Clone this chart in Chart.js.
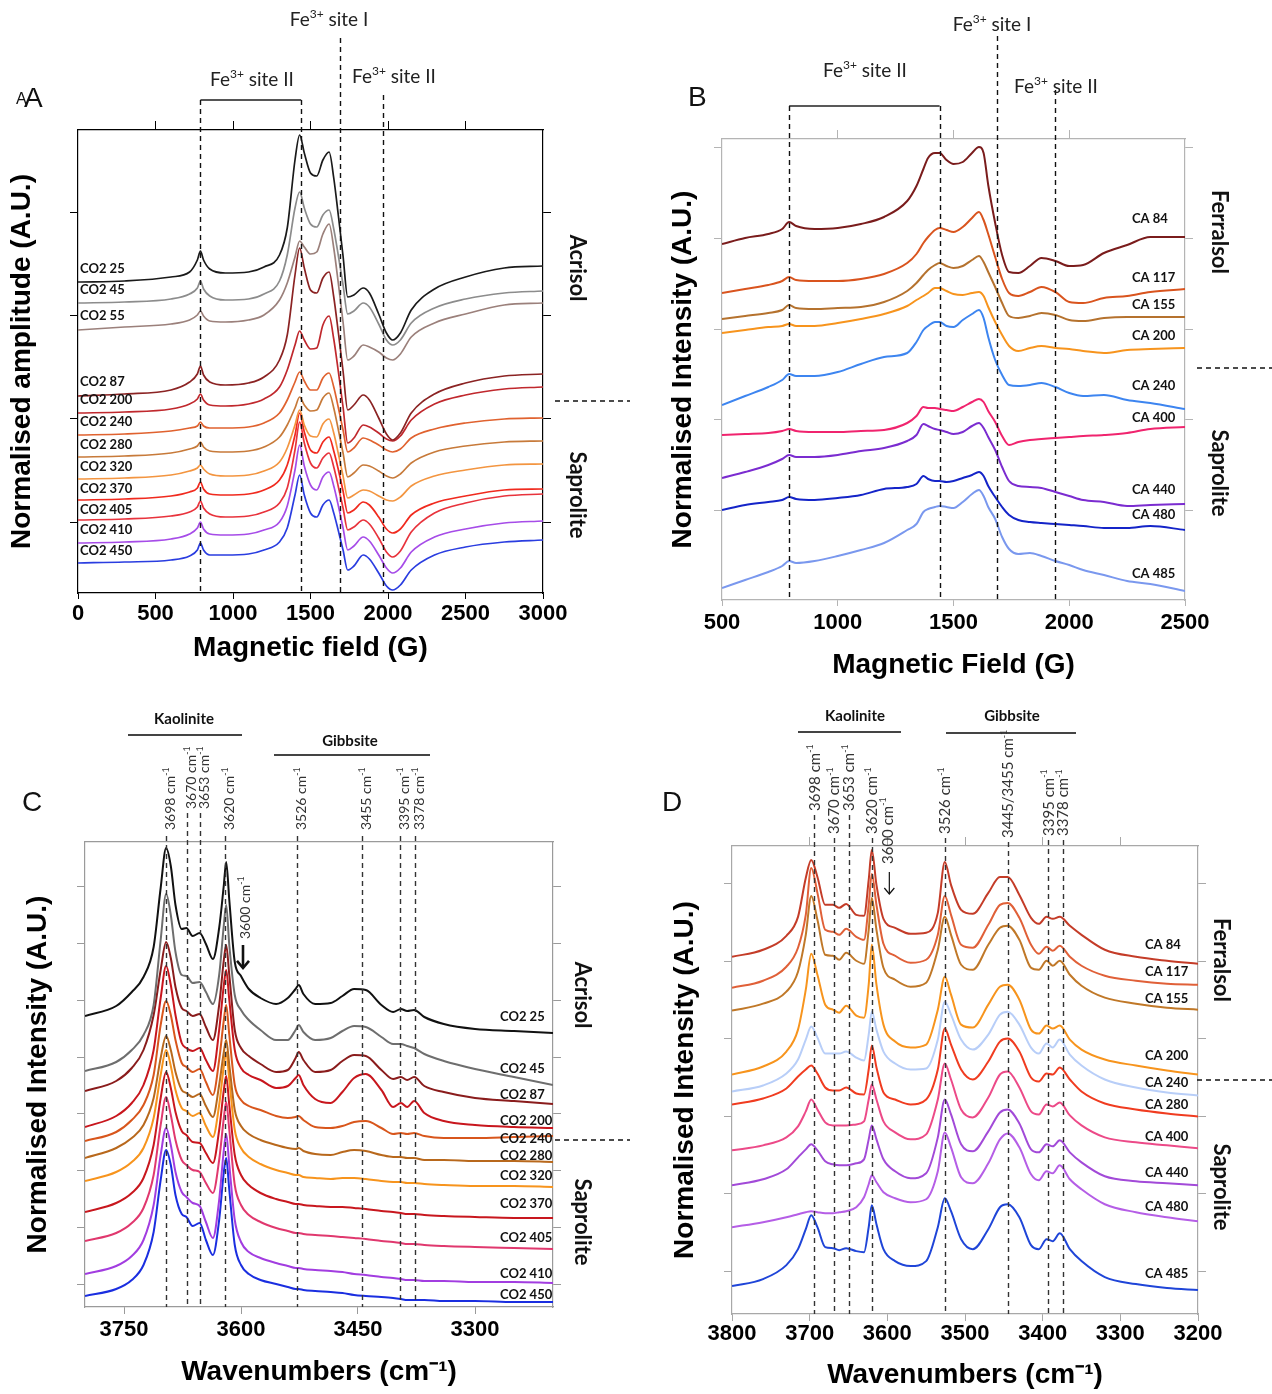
<!DOCTYPE html>
<html lang="en">
<head>
<meta charset="UTF-8">
<title>EPR and DRIFT spectra of Acrisol and Ferralsol profiles</title>
<script src="https://cdnjs.cloudflare.com/ajax/libs/Chart.js/4.4.1/chart.umd.min.js"></script>
<style>
  body { margin: 0; background: #fff; }
  #wrap { position: relative; width: 1272px; height: 1394px; background: #fff; }
  #wrap canvas { position: absolute; left: 0; top: 0; }
</style>
</head>
<body>
<div id="wrap">
  <canvas id="chartA" width="1272" height="1394"></canvas>
  <canvas id="chartB" width="1272" height="1394"></canvas>
  <canvas id="chartC" width="1272" height="1394"></canvas>
  <canvas id="chartD" width="1272" height="1394"></canvas>
</div>
<script>
// ---------- A: EPR, Acrisol profile (normalised amplitude, A.U.) ----------
const fieldA = [0, 300, 600, 720, 770, 790, 810, 850, 950, 1100, 1200, 1300, 1350, 1400, 1430, 1460, 1500, 1540, 1580, 1620, 1650, 1680, 1710, 1740, 1780, 1840, 1880, 1940, 1990, 2030, 2080, 2150, 2300, 2500, 2750, 3000];
const epr_co2_25  = [318, 319, 323, 328, 340, 349, 340, 331, 327, 328, 333, 345, 372, 440, 465, 447, 427, 424, 440, 448, 422, 384, 344, 303, 305, 312, 307, 286, 267, 260, 267, 290, 311, 323, 332, 334];
const epr_co2_45  = [297, 298, 301, 306, 312, 319, 311, 304, 300, 301, 306, 319, 345, 392, 408, 392, 376, 373, 385, 390, 371, 344, 315, 286, 289, 297, 293, 276, 260, 255, 260, 277, 292, 301, 307, 309];
const epr_co2_55  = [270, 273, 276, 280, 285, 289, 284, 279, 278, 280, 285, 300, 317, 343, 359, 353, 346, 348, 366, 376, 352, 316, 278, 240, 244, 255, 253, 248, 242, 240, 246, 263, 277, 286, 295, 297];
const epr_co2_87  = [204, 206, 210, 218, 226, 234, 225, 218, 215, 217, 223, 240, 265, 325, 352, 332, 310, 307, 322, 328, 303, 267, 229, 190, 195, 205, 200, 182, 166, 160, 167, 187, 206, 217, 224, 226];
const epr_co2_200 = [187, 188, 191, 196, 201, 206, 200, 195, 194, 196, 201, 213, 230, 255, 269, 260, 251, 252, 275, 284, 261, 228, 193, 157, 162, 175, 173, 167, 161, 159, 164, 180, 196, 205, 211, 213];
const epr_co2_240 = [165, 166, 169, 172, 174, 178, 174, 172, 172, 173, 177, 187, 200, 218, 228, 219, 210, 210, 222, 227, 213, 192, 170, 148, 152, 162, 160, 155, 150, 148, 151, 162, 171, 177, 181, 182];
const epr_co2_280 = [143, 144, 147, 151, 154, 158, 153, 149, 148, 149, 153, 163, 175, 192, 203, 195, 189, 190, 202, 207, 192, 170, 147, 123, 127, 135, 134, 129, 124, 122, 126, 137, 148, 154, 158, 159];
const epr_co2_320 = [121, 122, 125, 129, 132, 135, 131, 126, 124, 125, 129, 138, 152, 175, 190, 175, 164, 163, 176, 181, 167, 146, 124, 102, 105, 110, 109, 104, 100, 99, 103, 114, 124, 130, 135, 136];
const epr_co2_370 = [100, 101, 104, 108, 112, 118, 111, 106, 105, 106, 110, 120, 135, 165, 187, 168, 150, 147, 158, 163, 149, 130, 109, 87, 90, 98, 95, 83, 71, 67, 71, 85, 97, 104, 110, 111];
const epr_co2_405 = [80, 81, 84, 88, 93, 99, 92, 86, 83, 84, 88, 97, 112, 150, 178, 157, 137, 132, 142, 147, 133, 113, 92, 70, 73, 80, 76, 62, 48, 43, 49, 68, 87, 97, 104, 106];
const epr_co2_410 = [57, 58, 61, 66, 72, 78, 71, 66, 65, 66, 70, 78, 94, 130, 155, 134, 115, 110, 123, 128, 114, 94, 72, 50, 54, 63, 59, 45, 32, 27, 32, 48, 63, 71, 77, 79];
const epr_co2_450 = [37, 38, 40, 44, 50, 57, 50, 45, 45, 46, 50, 58, 72, 105, 125, 105, 87, 83, 95, 100, 87, 69, 50, 30, 34, 45, 41, 27, 14, 10, 15, 30, 45, 53, 58, 60];
const namesA = ['CO2 25', 'CO2 45', 'CO2 55', 'CO2 87', 'CO2 200', 'CO2 240', 'CO2 280', 'CO2 320', 'CO2 370', 'CO2 405', 'CO2 410', 'CO2 450'];
const fieldTicksA = [0, 500, 1000, 1500, 2000, 2500, 3000];

// ---------- B: EPR, Ferralsol profile ----------
const fieldB = [500, 600, 700, 760, 790, 820, 900, 1000, 1100, 1200, 1300, 1340, 1370, 1390, 1420, 1440, 1470, 1500, 1540, 1580, 1610, 1630, 1650, 1680, 1710, 1740, 1780, 1830, 1880, 1940, 2000, 2060, 2150, 2250, 2350, 2500];
const epr_ca84  = [366, 372, 376, 381, 388, 384, 381, 382, 386, 393, 409, 424, 441, 452, 457, 457, 450, 446, 448, 457, 463, 457, 425, 387, 355, 338, 337, 344, 352, 349, 344, 345, 357, 365, 373, 373];
const epr_ca117 = [317, 321, 325, 329, 333, 330, 329, 329, 331, 336, 347, 356, 367, 373, 380, 382, 380, 378, 383, 392, 398, 390, 376, 353, 331, 317, 314, 318, 323, 318, 308, 307, 312, 314, 318, 321];
const epr_ca155 = [291, 294, 297, 300, 305, 302, 301, 302, 303, 308, 319, 327, 335, 340, 345, 347, 344, 342, 344, 350, 354, 348, 338, 323, 307, 294, 292, 294, 297, 295, 290, 289, 292, 293, 293, 293];
const epr_ca200 = [277, 280, 283, 284, 286, 284, 284, 287, 291, 296, 304, 310, 314, 317, 322, 322, 319, 316, 315, 317, 318, 314, 303, 288, 275, 264, 259, 262, 264, 262, 261, 259, 257, 260, 261, 262];
const epr_ca240 = [205, 214, 223, 230, 236, 234, 234, 238, 246, 253, 257, 268, 280, 284, 288, 288, 284, 283, 290, 296, 300, 292, 273, 250, 235, 225, 224, 225, 227, 223, 217, 214, 215, 210, 207, 201];
const epr_ca400 = [175, 176, 177, 179, 181, 179, 178, 178, 179, 180, 187, 194, 203, 202, 202, 201, 200, 199, 203, 208, 211, 208, 199, 188, 174, 165, 168, 170, 171, 172, 173, 174, 175, 177, 181, 183];
const epr_ca440 = [132, 138, 145, 151, 155, 153, 153, 155, 159, 162, 169, 175, 186, 184, 181, 180, 178, 176, 178, 184, 187, 182, 173, 160, 143, 129, 124, 123, 122, 118, 114, 110, 108, 104, 105, 106];
const epr_ca480 = [100, 105, 108, 110, 113, 111, 110, 112, 115, 121, 123, 126, 134, 131, 129, 129, 128, 129, 132, 135, 138, 134, 124, 113, 103, 95, 90, 88, 87, 86, 85, 84, 82, 82, 84, 80];
const epr_ca485 = [22, 30, 38, 44, 49, 47, 49, 54, 60, 67, 80, 86, 98, 101, 103, 104, 103, 102, 108, 116, 120, 114, 103, 91, 73, 61, 56, 57, 54, 49, 45, 40, 35, 29, 26, 19];
const namesB = ['CA 84', 'CA 117', 'CA 155', 'CA 200', 'CA 240', 'CA 400', 'CA 440', 'CA 480', 'CA 485'];
const fieldTicksB = [500, 1000, 1500, 2000, 2500];

// ---------- C: DRIFT, Acrisol profile ----------
const waveC = [3800, 3760, 3740, 3725, 3712, 3703, 3696, 3690, 3684, 3676, 3670, 3662, 3653, 3645, 3636, 3628, 3622, 3619, 3615, 3608, 3600, 3590, 3575, 3555, 3540, 3530, 3526, 3520, 3505, 3485, 3470, 3455, 3440, 3420, 3405, 3395, 3387, 3378, 3365, 3340, 3300, 3250, 3200];
const ir_co2_25  = [294, 304, 318, 333, 363, 422, 462, 444, 405, 381, 382, 374, 377, 366, 351, 382, 425, 448, 410, 348, 334, 321, 312, 306, 312, 321, 325, 316, 306, 307, 314, 321, 320, 305, 298, 301, 299, 300, 293, 286, 281, 279, 277];
const ir_co2_45  = [239, 248, 260, 275, 305, 370, 416, 395, 358, 335, 334, 327, 328, 318, 306, 335, 385, 405, 365, 315, 300, 290, 280, 270, 270, 280, 285, 278, 270, 272, 279, 284, 283, 273, 266, 266, 264, 262, 256, 249, 241, 233, 225];
const ir_co2_87  = [219, 229, 242, 260, 295, 340, 368, 352, 323, 302, 299, 294, 296, 283, 270, 305, 350, 365, 335, 280, 262, 254, 246, 238, 240, 252, 258, 250, 238, 240, 249, 255, 254, 240, 231, 233, 230, 233, 224, 218, 212, 209, 206];
const ir_co2_200 = [183, 194, 207, 225, 260, 312, 344, 325, 295, 267, 262, 259, 262, 250, 239, 280, 325, 340, 310, 260, 242, 235, 230, 222, 224, 232, 235, 225, 211, 207, 218, 232, 236, 220, 203, 207, 203, 209, 197, 189, 185, 183, 182];
const ir_co2_240 = [169, 178, 190, 205, 235, 285, 309, 295, 270, 247, 243, 238, 241, 228, 215, 250, 290, 305, 275, 225, 210, 204, 200, 194, 192, 193, 194, 190, 183, 182, 184, 188, 189, 182, 176, 177, 176, 177, 174, 172, 172, 173, 174];
const ir_co2_280 = [152, 162, 172, 185, 212, 252, 274, 260, 238, 220, 217, 213, 216, 204, 193, 225, 258, 270, 245, 200, 184, 176, 170, 165, 162, 161, 162, 159, 156, 155, 158, 160, 159, 155, 153, 153, 152, 152, 150, 150, 149, 149, 148];
const ir_co2_320 = [129, 138, 148, 162, 192, 235, 260, 244, 220, 202, 199, 194, 197, 184, 173, 205, 244, 258, 230, 180, 162, 153, 146, 140, 137, 135, 135, 133, 132, 131, 132, 132, 131, 129, 128, 128, 127, 127, 126, 125, 124, 124, 123];
const ir_co2_370 = [98, 107, 117, 132, 165, 212, 238, 222, 198, 179, 175, 168, 167, 157, 147, 180, 220, 234, 205, 155, 135, 125, 117, 111, 108, 106, 106, 105, 104, 103, 103, 102, 101, 99, 98, 97, 96, 96, 95, 94, 93, 92, 92];
const ir_co2_405 = [69, 77, 87, 102, 135, 185, 213, 195, 170, 150, 145, 140, 138, 127, 117, 150, 192, 208, 180, 125, 105, 95, 88, 82, 79, 77, 77, 76, 75, 74, 73, 72, 71, 69, 68, 67, 66, 66, 65, 64, 63, 62, 61];
const ir_co2_410 = [36, 44, 54, 70, 105, 155, 182, 165, 138, 118, 113, 107, 104, 88, 72, 110, 160, 176, 145, 90, 68, 58, 52, 47, 44, 42, 42, 41, 40, 39, 38, 36, 35, 33, 32, 31, 30, 30, 29, 29, 28, 28, 27];
const ir_co2_450 = [14, 21, 30, 45, 78, 130, 160, 145, 115, 96, 93, 84, 87, 70, 55, 90, 138, 152, 120, 65, 45, 36, 30, 26, 23, 21, 21, 20, 19, 18, 17, 15, 14, 13, 12, 11, 10, 10, 10, 9, 9, 8, 8];
const namesC = ['CO2 25', 'CO2 45', 'CO2 87', 'CO2 200', 'CO2 240', 'CO2 280', 'CO2 320', 'CO2 370', 'CO2 405', 'CO2 410', 'CO2 450'];
const waveTicksC = [3750, 3600, 3450, 3300];

// ---------- D: DRIFT, Ferralsol profile ----------
const waveD = [3800, 3760, 3730, 3715, 3705, 3698, 3690, 3680, 3670, 3662, 3653, 3640, 3630, 3624, 3620, 3614, 3605, 3590, 3570, 3550, 3535, 3526, 3518, 3505, 3490, 3470, 3455, 3445, 3430, 3415, 3405, 3395, 3387, 3378, 3365, 3350, 3320, 3280, 3240, 3200];
const ir_ca84  = [363, 370, 384, 403, 442, 460, 443, 415, 415, 412, 416, 405, 404, 440, 470, 435, 401, 392, 386, 387, 407, 458, 435, 410, 406, 427, 443, 443, 425, 402, 396, 403, 401, 403, 394, 385, 370, 363, 359, 356];
const ir_ca117 = [332, 339, 353, 372, 405, 452, 427, 390, 388, 385, 391, 383, 380, 415, 446, 415, 376, 364, 357, 360, 385, 424, 405, 375, 372, 395, 415, 417, 402, 375, 366, 373, 369, 374, 363, 354, 344, 339, 336, 335];
const ir_ca155 = [309, 316, 328, 348, 385, 424, 400, 365, 364, 360, 367, 359, 356, 390, 422, 390, 352, 340, 333, 337, 370, 403, 385, 355, 350, 375, 392, 394, 380, 352, 350, 359, 354, 359, 345, 334, 322, 316, 312, 310];
const ir_ca200 = [245, 253, 268, 290, 330, 366, 345, 315, 310, 307, 314, 304, 302, 335, 375, 335, 295, 278, 272, 275, 310, 343, 325, 295, 292, 315, 333, 335, 320, 290, 286, 294, 291, 294, 280, 270, 260, 254, 249, 245];
const ir_ca240 = [228, 234, 246, 260, 280, 293, 282, 266, 266, 266, 268, 262, 259, 285, 308, 290, 268, 256, 250, 251, 280, 318, 305, 280, 270, 285, 305, 308, 295, 272, 266, 276, 272, 280, 265, 254, 240, 232, 227, 224];
const ir_ca280 = [215, 221, 231, 243, 250, 254, 246, 232, 229, 229, 232, 226, 225, 250, 274, 252, 227, 220, 215, 220, 250, 291, 275, 250, 240, 258, 278, 281, 268, 242, 238, 246, 245, 252, 240, 228, 216, 210, 206, 203];
const ir_ca400 = [169, 174, 182, 193, 208, 220, 210, 197, 194, 194, 194, 195, 198, 220, 235, 220, 198, 187, 180, 185, 220, 256, 240, 210, 202, 222, 245, 248, 232, 208, 205, 215, 213, 217, 204, 194, 182, 177, 174, 171];
const ir_ca440 = [134, 140, 150, 162, 170, 175, 169, 158, 155, 154, 154, 156, 160, 180, 194, 180, 160, 148, 141, 146, 182, 220, 205, 175, 168, 188, 207, 210, 196, 170, 167, 175, 173, 179, 167, 157, 143, 138, 136, 134];
const ir_ca480 = [92, 97, 102, 105, 107, 108, 107, 106, 106, 107, 108, 112, 122, 135, 144, 137, 127, 121, 117, 120, 148, 187, 172, 142, 136, 156, 180, 186, 172, 145, 139, 148, 146, 154, 140, 130, 115, 107, 102, 98];
const ir_ca485 = [33, 40, 54, 70, 90, 104, 92, 72, 71, 69, 71, 68, 67, 92, 114, 95, 70, 58, 53, 58, 92, 121, 108, 80, 70, 90, 112, 115, 102, 74, 70, 80, 78, 86, 70, 58, 42, 35, 31, 29];
const namesD = ['CA 84', 'CA 117', 'CA 155', 'CA 200', 'CA 240', 'CA 280', 'CA 400', 'CA 440', 'CA 480', 'CA 485'];
const waveTicksD = [3800, 3700, 3600, 3500, 3400, 3300, 3200];

// ---------- drawing ----------
const FONT_AXIS = "'Liberation Sans', Arial, sans-serif";
const FONT_NOTE = "Lato, 'Open Sans', sans-serif";

// text with superscript parts: parts = [[text, isSup], ...]
function drawSup(ctx, parts, x, y, size, align, color, weight) {
  const w8 = weight || 'normal';
  const fonts = parts.map(p => `${w8} ${p[1] ? Math.round(size * 0.62) : size}px ${FONT_NOTE}`);
  let total = 0;
  const widths = parts.map((p, i) => {
    ctx.font = fonts[i];
    const w = ctx.measureText(p[0]).width;
    total += w;
    return w;
  });
  let cx = align === 'center' ? x - total / 2 : (align === 'right' ? x - total : x);
  ctx.fillStyle = color;
  ctx.textAlign = 'left';
  ctx.textBaseline = 'alphabetic';
  parts.forEach((p, i) => {
    ctx.font = fonts[i];
    ctx.fillText(p[0], cx, y - (p[1] ? size * 0.42 : 0));
    cx += widths[i];
  });
}

const decor = {
  id: 'decor',
  afterDraw(chart, args, o) {
    const ctx = chart.ctx;
    const xs = chart.scales.x;
    const ys = chart.scales.y;
    const area = chart.chartArea;
    ctx.save();

    (o.letters || []).forEach(l => {
      ctx.font = `${l.size}px ${FONT_AXIS}`;
      ctx.fillStyle = '#111';
      ctx.textAlign = 'left';
      ctx.textBaseline = 'alphabetic';
      ctx.fillText(l.t, l.x, l.y);
    });

    (o.groups || []).forEach(g => {
      ctx.strokeStyle = '#444';
      ctx.lineWidth = 2;
      ctx.beginPath(); ctx.moveTo(g.x0, g.barY); ctx.lineTo(g.x1, g.barY); ctx.stroke();
      ctx.font = `bold 15px ${FONT_NOTE}`;
      ctx.fillStyle = '#111';
      ctx.textAlign = 'center';
      ctx.textBaseline = 'middle';
      ctx.fillText(g.t, g.x, g.y);
    });

    (o.brackets || []).forEach(b => {
      ctx.strokeStyle = b.color;
      ctx.lineWidth = b.w;
      ctx.beginPath();
      ctx.moveTo(xs.getPixelForValue(b.from), b.y);
      ctx.lineTo(xs.getPixelForValue(b.to), b.y);
      ctx.stroke();
    });

    // dashed marker lines
    ctx.setLineDash([5, 4]);
    ctx.lineWidth = 1.4;
    ctx.strokeStyle = o.dashColor;
    (o.vlines || []).forEach(l => {
      const px = Math.round(xs.getPixelForValue(l.v)) + 0.5;
      ctx.beginPath(); ctx.moveTo(px, l.top); ctx.lineTo(px, area.bottom); ctx.stroke();
    });
    if (o.divider) {
      const d = o.divider;
      ctx.strokeStyle = '#111';
      ctx.lineWidth = 1.5;
      ctx.beginPath(); ctx.moveTo(d.x0, d.y); ctx.lineTo(d.x1, d.y); ctx.stroke();
    }
    ctx.setLineDash([]);

    // Fe3+ site labels
    (o.sites || []).forEach(s => {
      drawSup(ctx, [['Fe', 0], ['3+', 1], [' site ' + s.n, 0]], s.x, s.y + 7, 19, s.align || 'center', '#222');
    });

    // rotated band labels
    (o.peaks || []).forEach(p => {
      const px = xs.getPixelForValue(p.v) + (o.peakDx || 0);
      ctx.save();
      ctx.translate(px, p.bottom);
      ctx.rotate(-Math.PI / 2);
      drawSup(ctx, [[p.t + ' cm', 0], ['-1', 1]], 0, o.peakSize * 0.36, o.peakSize, 'left', '#333');
      ctx.restore();
    });

    if (o.arrow) {
      const a = o.arrow;
      const px = xs.getPixelForValue(a.v) + (a.dx || 0);
      ctx.strokeStyle = '#111';
      ctx.lineWidth = a.w;
      ctx.beginPath(); ctx.moveTo(px, a.y0); ctx.lineTo(px, a.y1); ctx.stroke();
      ctx.beginPath();
      ctx.moveTo(px - a.head, a.y1 - a.head * 1.2);
      ctx.lineTo(px, a.y1);
      ctx.lineTo(px + a.head, a.y1 - a.head * 1.2);
      ctx.stroke();
    }

    // sample labels, anchored on each curve
    if (o.curveLabels) {
      const c = o.curveLabels;
      ctx.font = `bold 13px ${FONT_NOTE}`;
      ctx.fillStyle = '#111';
      ctx.textAlign = 'left';
      ctx.textBaseline = 'middle';
      chart.data.datasets.forEach((ds, i) => {
        const pt = c.first ? ds.data[0] : ds.data[ds.data.length - 1];
        ctx.fillText(ds.label, c.x, ys.getPixelForValue(pt.y) + c.nudge[i]);
      });
    }

    // horizon names on the right
    (o.sides || []).forEach(s => {
      ctx.save();
      ctx.translate(s.x, s.y);
      ctx.rotate(Math.PI / 2);
      ctx.font = `bold 22px ${FONT_NOTE}`;
      ctx.fillStyle = '#111';
      ctx.textAlign = 'center';
      ctx.textBaseline = 'middle';
      ctx.fillText(s.t, 0, 0);
      ctx.restore();
    });

    ctx.restore();
  }
};

function makePanel(id, p) {
  const datasets = p.series.map((ys, i) => ({
    label: p.names[i],
    data: ys.map((y, j) => ({ x: p.xs[j], y: y })),
    borderColor: p.colors[i],
    borderWidth: p.lineWidth,
    pointRadius: 0,
    cubicInterpolationMode: 'monotone',
    fill: false
  }));
  const fitH = h => s => { s.height = h; s.paddingLeft = 0; s.paddingRight = 0; };
  const fitW = w => s => { s.width = w; s.paddingTop = 0; s.paddingBottom = 0; };
  const useTicks = vals => s => { s.ticks = vals.map(v => ({ value: v })); };
  const grid = len => ({ display: len > 0, drawOnChartArea: false, drawTicks: true, tickLength: len, color: p.frame, lineWidth: 1 });
  const border = { display: true, color: p.frame, width: p.frameW };
  const xBase = { type: 'linear', min: p.xMin, max: p.xMax, reverse: p.reverse, bounds: 'data' };
  const yBase = { type: 'linear', min: p.yMin, max: p.yMax, bounds: 'data' };

  new Chart(document.getElementById(id), {
    type: 'line',
    data: { datasets },
    options: {
      responsive: false,
      animation: false,
      devicePixelRatio: 1,
      layout: { padding: p.padding },
      plugins: { legend: { display: false }, tooltip: { enabled: false }, decor: p.decor },
      scales: {
        x: Object.assign({}, xBase, {
          position: 'bottom',
          afterBuildTicks: useTicks(p.xTicks),
          afterFit: fitH(p.xAxisH),
          grid: grid(p.bottomTick),
          border: border,
          ticks: { color: '#000', padding: p.tickPad, maxRotation: 0, autoSkip: false,
                   font: { family: FONT_AXIS, size: p.tickSize, weight: 'bold' },
                   callback: v => String(v) },
          title: { display: true, text: p.xTitle, color: '#000', padding: { top: 0, bottom: 0 },
                   font: { family: FONT_AXIS, size: 28, weight: 'bold' } }
        }),
        x2: Object.assign({}, xBase, {
          position: 'top',
          afterBuildTicks: useTicks(p.xTopTicks),
          afterFit: fitH(p.topH),
          grid: grid(p.xTopTicks.length ? 9 : 0),
          border: border,
          ticks: { display: false }
        }),
        y: Object.assign({}, yBase, {
          position: 'left',
          afterBuildTicks: useTicks(p.yTicks),
          afterFit: fitW(p.yAxisW),
          grid: grid(8),
          border: border,
          ticks: { display: false },
          title: { display: true, text: p.yTitle, color: '#000', padding: { top: p.yTitlePad, bottom: 0 },
                   font: { family: FONT_AXIS, size: 28, weight: 'bold' } }
        }),
        y2: Object.assign({}, yBase, {
          position: 'right',
          afterBuildTicks: useTicks(p.yTicks),
          afterFit: fitW(10),
          grid: grid(8),
          border: border,
          ticks: { display: false }
        })
      }
    },
    plugins: [decor]
  });
}

makePanel('chartA', {
  xs: fieldA,
  series: [epr_co2_25, epr_co2_45, epr_co2_55, epr_co2_87, epr_co2_200, epr_co2_240, epr_co2_280, epr_co2_320, epr_co2_370, epr_co2_405, epr_co2_410, epr_co2_450],
  names: namesA,
  colors: ['#1a1a1a', '#8c8c8c', '#9b807b', '#8b2323', '#c0282d', '#e0622f', '#c77a3a', '#f39540', '#f02a1e', '#e8333c', '#a64ce8', '#2a3de0'],
  lineWidth: 1.7,
  xMin: 0, xMax: 3000, reverse: false, xTicks: fieldTicksA, xTopTicks: [500, 1000, 1500, 2000, 2500],
  yMin: 7, yMax: 470, yTicks: [78, 182, 285, 388],
  padding: { left: 0, top: 120, right: 719, bottom: 729 },
  yAxisW: 78, xAxisH: 72, topH: 10, bottomTick: 6, tickPad: 2, tickSize: 22,
  frame: '#000', frameW: 1.2,
  xTitle: 'Magnetic field (G)', yTitle: 'Normalised amplitude (A.U.)', yTitlePad: 5,
  decor: {
    letters: [{ t: 'A', x: 16, y: 104, size: 16 }, { t: 'A', x: 24, y: 107, size: 28 }],
    dashColor: '#111',
    vlines: [{ v: 790, top: 100 }, { v: 1440, top: 100 }, { v: 1690, top: 38 }, { v: 1965, top: 95 }],
    brackets: [{ from: 790, to: 1440, y: 100, color: '#555', w: 2 }],
    sites: [{ n: 'II', x: 252, y: 79 }, { n: 'I', x: 329, y: 19 }, { n: 'II', x: 352, y: 76, align: 'left' }],
    sides: [{ t: 'Acrisol', x: 577, y: 268 }, { t: 'Saprolite', x: 577, y: 495 }],
    divider: { y: 401, x0: 555, x1: 630 },
    curveLabels: { x: 80, first: true, nudge: [-13, -13, -14, -14, -13, -13, -12, -12, -11, -10, -13, -12] }
  }
});

makePanel('chartB', {
  xs: fieldB,
  series: [epr_ca84, epr_ca117, epr_ca155, epr_ca200, epr_ca240, epr_ca400, epr_ca440, epr_ca480, epr_ca485],
  names: namesB,
  colors: ['#7a1c1c', '#d9541e', '#b5722e', '#f7941d', '#3d85f0', '#f0246e', '#7b2cd0', '#1424c8', '#7a98ee'],
  lineWidth: 2,
  xMin: 500, xMax: 2500, reverse: false, xTicks: fieldTicksB, xTopTicks: [1000, 1500, 2000],
  yMin: 10, yMax: 471, yTicks: [100, 191, 281, 372, 463],
  padding: { left: 656, top: 129, right: 77, bottom: 712 },
  yAxisW: 66, xAxisH: 82, topH: 10, bottomTick: 6, tickPad: 4, tickSize: 22,
  frame: '#b4b4b4', frameW: 1.2,
  xTitle: 'Magnetic Field (G)', yTitle: 'Normalised Intensity (A.U.)', yTitlePad: 10,
  decor: {
    letters: [{ t: 'B', x: 688, y: 106, size: 28 }],
    dashColor: '#111',
    vlines: [{ v: 790, top: 106 }, { v: 1440, top: 106 }, { v: 1690, top: 36 }, { v: 1940, top: 90 }],
    brackets: [{ from: 790, to: 1440, y: 106, color: '#222', w: 1.5 }],
    sites: [{ n: 'II', x: 865, y: 70 }, { n: 'I', x: 992, y: 24 }, { n: 'II', x: 1056, y: 86 }],
    sides: [{ t: 'Ferralsol', x: 1219, y: 232 }, { t: 'Saprolite', x: 1219, y: 473 }],
    divider: { y: 368, x0: 1197, x1: 1272 },
    curveLabels: { x: 1132, first: false, nudge: [-18, -11, -12, -12, -23, -9, -14, -15, -17] }
  }
});

makePanel('chartC', {
  xs: waveC,
  series: [ir_co2_25, ir_co2_45, ir_co2_87, ir_co2_200, ir_co2_240, ir_co2_280, ir_co2_320, ir_co2_370, ir_co2_405, ir_co2_410, ir_co2_450],
  names: namesC,
  colors: ['#111111', '#6e6e6e', '#8a1c1c', '#c8161d', '#d8561c', '#b8681c', '#f7941d', '#c8171e', '#e0386e', '#a23de0', '#1a2ee0'],
  lineWidth: 2,
  xMin: 3200, xMax: 3800, reverse: true, xTicks: waveTicksC, xTopTicks: [],
  yMin: 3, yMax: 468, yTicks: [26, 83, 140, 197, 253, 310, 367, 424],
  padding: { left: 17, top: 842, right: 709, bottom: 5 },
  yAxisW: 68, xAxisH: 82, topH: 0, bottomTick: 7, tickPad: 3, tickSize: 22,
  frame: '#9a9a9a', frameW: 1.2,
  xTitle: 'Wavenumbers (cm⁻¹)', yTitle: 'Normalised Intensity (A.U.)', yTitlePad: 4,
  decor: {
    letters: [{ t: 'C', x: 22, y: 811, size: 28 }],
    groups: [{ t: 'Kaolinite', x: 184, y: 719, x0: 128, x1: 242, barY: 735 },
             { t: 'Gibbsite', x: 350, y: 741, x0: 274, x1: 430, barY: 755 }],
    dashColor: '#333',
    vlines: [{ v: 3696, top: 836 }, { v: 3669, top: 813 }, { v: 3653, top: 813 }, { v: 3621, top: 836 },
             { v: 3528, top: 836 }, { v: 3445, top: 836 }, { v: 3396, top: 836 }, { v: 3377, top: 836 }],
    peakSize: 14, peakDx: 4,
    peaks: [{ v: 3696, t: '3698', bottom: 830 }, { v: 3669, t: '3670', bottom: 809 }, { v: 3653, t: '3653', bottom: 809 },
            { v: 3621, t: '3620', bottom: 830 }, { v: 3528, t: '3526', bottom: 830 }, { v: 3445, t: '3455', bottom: 830 },
            { v: 3396, t: '3395', bottom: 830 }, { v: 3377, t: '3378', bottom: 830 }, { v: 3600, t: '3600', bottom: 939 }],
    arrow: { v: 3600, dx: 2, y0: 945, y1: 968, w: 2.6, head: 6 },
    sides: [{ t: 'Acrisol', x: 582, y: 995 }, { t: 'Saprolite', x: 582, y: 1222 }],
    divider: { y: 1140, x0: 555, x1: 630 },
    curveLabels: { x: 500, first: false, nudge: [-16, -16, -9, -7, 3, -6, -11, -14, -11, -9, -7] }
  }
});

makePanel('chartD', {
  xs: waveD,
  series: [ir_ca84, ir_ca117, ir_ca155, ir_ca200, ir_ca240, ir_ca280, ir_ca400, ir_ca440, ir_ca480, ir_ca485],
  names: namesD,
  colors: ['#c43c28', '#e06038', '#c07828', '#f7941d', '#b8cef8', '#f03c20', '#ec4a88', '#a24ad8', '#b55ee6', '#1f45d8'],
  lineWidth: 2,
  xMin: 3200, xMax: 3800, reverse: true, xTicks: waveTicksD, xTopTicks: [3700, 3600, 3500, 3400, 3300],
  yMin: 5, yMax: 474, yTicks: [48, 126, 203, 281, 358, 436],
  padding: { left: 664, top: 836, right: 64, bottom: 2 },
  yAxisW: 68, xAxisH: 78, topH: 10, bottomTick: 7, tickPad: 0, tickSize: 22,
  frame: '#a8a8a8', frameW: 1.2,
  xTitle: 'Wavenumbers (cm⁻¹)', yTitle: 'Normalised Intensity (A.U.)', yTitlePad: 4,
  decor: {
    letters: [{ t: 'D', x: 662, y: 811, size: 28 }],
    groups: [{ t: 'Kaolinite', x: 855, y: 716, x0: 798, x1: 901, barY: 732 },
             { t: 'Gibbsite', x: 1012, y: 716, x0: 946, x1: 1076, barY: 733 }],
    dashColor: '#333',
    vlines: [{ v: 3694, top: 815 }, { v: 3669, top: 838 }, { v: 3650, top: 815 }, { v: 3620, top: 838 },
             { v: 3526, top: 838 }, { v: 3445, top: 842 }, { v: 3393, top: 840 }, { v: 3374, top: 840 }],
    peakSize: 15, peakDx: 0,
    peaks: [{ v: 3694, t: '3698', bottom: 811 }, { v: 3669, t: '3670', bottom: 834 }, { v: 3650, t: '3653', bottom: 811 },
            { v: 3620, t: '3620', bottom: 834 }, { v: 3526, t: '3526', bottom: 834 }, { v: 3445, t: '3445/3455', bottom: 838 },
            { v: 3393, t: '3395', bottom: 836 }, { v: 3374, t: '3378', bottom: 836 }, { v: 3600, t: '3600', bottom: 864 }],
    arrow: { v: 3600, dx: 2, y0: 872, y1: 894, w: 1.2, head: 5 },
    sides: [{ t: 'Ferralsol', x: 1221, y: 960 }, { t: 'Saprolite', x: 1221, y: 1187 }],
    divider: { y: 1080, x0: 1197, x1: 1272 },
    curveLabels: { x: 1145, first: false, nudge: [-19, -13, -11, -19, -13, -12, -12, -12, -14, -16] }
  }
});
</script>
</body>
</html>
